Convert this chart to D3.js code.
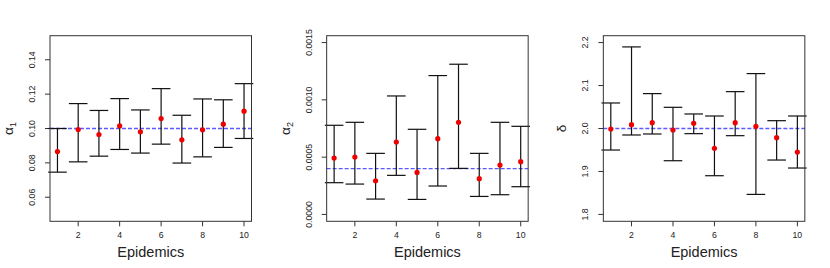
<!DOCTYPE html>
<html>
<head>
<meta charset="utf-8">
<script src="https://cdn.jsdelivr.net/npm/d3@7"></script>
<style>
  body { margin: 0; background: white; }
  text { font-family: "Liberation Sans", Arial, sans-serif; fill: #222; }
</style>
</head>
<body>
<div id="vis"></div>
<script>
var width = 830
var height = 268

// epidemics on the x axis
var epidemics = [1, 2, 3, 4, 5, 6, 7, 8, 9, 10]
var xTicks = [2, 4, 6, 8, 10]

// alpha_1 estimates and intervals
var alpha1Est   = [0.0866, 0.0994, 0.0965, 0.1015, 0.0981, 0.1058, 0.0934, 0.0992, 0.1025, 0.1101]
var alpha1Lower = [0.0746, 0.0806, 0.0839, 0.0878, 0.0857, 0.0909, 0.0799, 0.0835, 0.0890, 0.0942]
var alpha1Upper = [0.1000, 0.1145, 0.1105, 0.1174, 0.1108, 0.1232, 0.1077, 0.1172, 0.1167, 0.1261]
var alpha1Ticks = [0.06, 0.08, 0.10, 0.12, 0.14]

// alpha_2 estimates and intervals
var alpha2Est   = [0.000492, 0.000501, 0.000294, 0.000632, 0.000367, 0.000661, 0.000804, 0.000312, 0.000431, 0.000460]
var alpha2Lower = [0.000277, 0.000265, 0.000134, 0.000341, 0.000131, 0.000248, 0.000402, 0.000157, 0.000172, 0.000242]
var alpha2Upper = [0.000778, 0.000804, 0.000533, 0.001034, 0.000743, 0.001212, 0.001311, 0.000533, 0.000804, 0.000769]
var alpha2Ticks = [0.0000, 0.0005, 0.0010, 0.0015]

// delta estimates and intervals
var deltaEst   = [1.9988, 2.0089, 2.0136, 1.9965, 2.0120, 1.9538, 2.0136, 2.0050, 1.9786, 1.9452]
var deltaLower = [1.9499, 1.9849, 1.9872, 1.9250, 1.9880, 1.8901, 1.9833, 1.8466, 1.9266, 1.9080]
var deltaUpper = [2.0594, 2.1899, 2.0812, 2.0493, 2.0338, 2.0291, 2.0858, 2.1278, 2.0182, 2.0291]
var deltaTicks = [1.8, 1.9, 2.0, 2.1, 2.2]

var panels = [
  {sym: "α", sub: "1", est: alpha1Est, lo: alpha1Lower, hi: alpha1Upper, ticks: alpha1Ticks, ylim: [0.05, 0.15], truth: 0.10, fmt: ".2f"},
  {sym: "α", sub: "2", est: alpha2Est, lo: alpha2Lower, hi: alpha2Upper, ticks: alpha2Ticks, ylim: [0, 0.0015], truth: 0.0004, fmt: ".4f"},
  {sym: "δ", sub: "", est: deltaEst, lo: deltaLower, hi: deltaUpper, ticks: deltaTicks, ylim: [1.8, 2.2], truth: 2.0, fmt: ".1f"}
]

var svg = d3.select("#vis")
  .append("svg")
  .attr("width", width)
  .attr("height", height)
  .style("display", "block")

var panelW = width / 3
var plotTop = 35.7, plotBottom = 221.3
var boxW = 201.5

// R style 4% padding on the limits
function pad(lim) {
  var r = lim[1] - lim[0]
  return [lim[0] - 0.04 * r, lim[1] + 0.04 * r]
}

panels.forEach(function(p, i) {
  var left = 50 + i * panelW
  var g = svg.append("g")

  var x = d3.scaleLinear().domain(pad([1, 10])).range([left, left + boxW])
  var y = d3.scaleLinear().domain(pad(p.ylim)).range([plotBottom, plotTop])

  // x axis
  g.selectAll(".xt").data(xTicks).enter().append("line")
    .attr("x1", d => x(d)).attr("x2", d => x(d))
    .attr("y1", plotBottom).attr("y2", plotBottom + 5)
    .attr("stroke", "#333").attr("stroke-width", 1)
  g.selectAll(".xl").data(xTicks).enter().append("text")
    .attr("x", d => x(d)).attr("y", plotBottom + 17)
    .attr("text-anchor", "middle")
    .style("font-size", "8.7px")
    .text(d => d)
  g.append("text")
    .attr("x", left + boxW / 2).attr("y", 257)
    .attr("text-anchor", "middle")
    .style("font-size", "14.5px")
    .text("Epidemics")

  // y axis
  g.selectAll(".yt").data(p.ticks).enter().append("line")
    .attr("x1", left - 5).attr("x2", left)
    .attr("y1", d => y(d)).attr("y2", d => y(d))
    .attr("stroke", "#333").attr("stroke-width", 1)
  g.selectAll(".yl").data(p.ticks).enter().append("text")
    .attr("transform", d => `translate(${left - 15},${y(d)}) rotate(-90)`)
    .attr("text-anchor", "middle")
    .style("font-size", "8.7px")
    .text(d => d3.format(p.fmt)(d))

  var lab = g.append("text")
    .attr("transform", `translate(${left - 37},${(plotTop + plotBottom) / 2}) rotate(-90)`)
    .attr("text-anchor", "middle")
    .style("font-size", "13.5px")
  lab.append("tspan").text(p.sym)
  if (p.sub) lab.append("tspan").attr("dy", 3).style("font-size", "9px").text(p.sub)

  // reference line
  g.append("line")
    .attr("x1", left).attr("x2", left + boxW)
    .attr("y1", y(p.truth)).attr("y2", y(p.truth))
    .attr("stroke", "#5a5aff").attr("stroke-width", 1.3)
    .attr("stroke-dasharray", "4,2")

  // error bars
  var bars = g.selectAll(".bar").data(epidemics).enter().append("g")
  bars.append("line")
    .attr("x1", d => x(d)).attr("x2", d => x(d))
    .attr("y1", (d, j) => y(p.lo[j])).attr("y2", (d, j) => y(p.hi[j]))
    .attr("stroke", "#111").attr("stroke-width", 1.2)
  bars.append("line")
    .attr("x1", d => x(d) - 9.3).attr("x2", d => x(d) + 9.3)
    .attr("y1", (d, j) => y(p.lo[j])).attr("y2", (d, j) => y(p.lo[j]))
    .attr("stroke", "#111").attr("stroke-width", 1.2)
  bars.append("line")
    .attr("x1", d => x(d) - 9.3).attr("x2", d => x(d) + 9.3)
    .attr("y1", (d, j) => y(p.hi[j])).attr("y2", (d, j) => y(p.hi[j]))
    .attr("stroke", "#111").attr("stroke-width", 1.2)
  bars.append("circle")
    .attr("cx", d => x(d)).attr("cy", (d, j) => y(p.est[j]))
    .attr("r", 2.6)
    .attr("fill", "#ee0000")

  // box
  g.append("rect")
    .attr("x", left).attr("y", plotTop)
    .attr("width", boxW).attr("height", plotBottom - plotTop)
    .attr("fill", "none").attr("stroke", "#333").attr("stroke-width", 1)
})
</script>
</body>
</html>
